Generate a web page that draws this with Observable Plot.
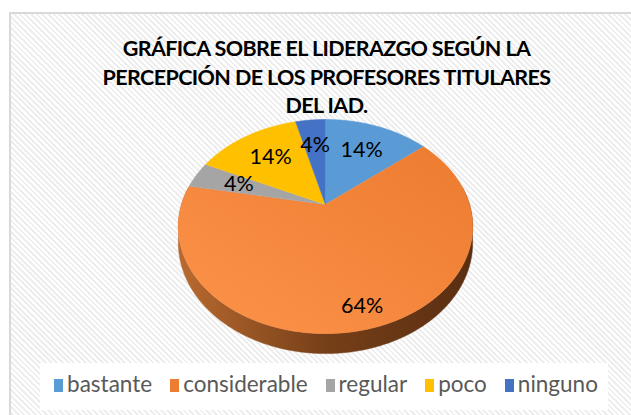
<!DOCTYPE html>
<html>
<head>
<meta charset="utf-8">
<script src="https://cdn.jsdelivr.net/npm/d3@7"></script>
<script src="https://cdn.jsdelivr.net/npm/@observablehq/plot@0.6"></script>
<style>
  html, body { margin: 0; padding: 0; background: #fff; }
  #page { position: relative; width: 631px; height: 415px; overflow: hidden; font-family: Lato, "Open Sans", sans-serif; }
  #frame { position: absolute; left: 9px; top: 12px; width: 640px; height: 420px;
    border-left: 2px solid #d9d9d9; border-top: 2px solid #d9d9d9;
    background: repeating-linear-gradient(45deg, #ffffff 0 2px, #eeeeee 2px 4px); z-index: 0; }
  #title { position: relative; z-index: 1; height: 116px; box-sizing: border-box; padding-top: 34.3px; padding-left: 22px;
    text-align: center; font-weight: 700; font-size: 21.5px; letter-spacing: -0.6px; line-height: 28.3px; color: #000; white-space: nowrap; }
  #chart { position: relative; z-index: 2; height: 247px; }
  #chart svg { overflow: visible; display: block; }
  #legend { position: absolute; left: 40px; top: 363px; width: 568px; height: 47px; background: #fff; z-index: 1;
    box-sizing: border-box; padding-top: 8px; padding-left: 4px; text-align: center; font-size: 22.5px; color: #595959; white-space: nowrap; line-height: 26px; }
  .item { display: inline-block; margin: 0 9px; }
  .sw { display: inline-block; width: 9px; height: 13px; margin-right: 4px; vertical-align: baseline; }
</style>
</head>
<body>
<svg width="0" height="0" style="position:absolute">
  <defs>
    <linearGradient id="sideOrange" x1="0" y1="0" x2="1" y2="0">
      <stop offset="0" stop-color="#b96a30"/>
      <stop offset="0.5" stop-color="#763f18"/>
      <stop offset="1" stop-color="#5a2e12"/>
    </linearGradient>
    <linearGradient id="topOrange" x1="0" y1="1" x2="1" y2="0">
      <stop offset="0" stop-color="#fc934a"/>
      <stop offset="1" stop-color="#ec7b2f"/>
    </linearGradient>
  </defs>
</svg>
<div id="page">
  <div id="frame"></div>
  <div id="title"></div>
  <div id="chart"></div>
  <div id="legend"></div>
</div>
<script>
// ---- data ----
const titleLines = ["GRÁFICA SOBRE EL LIDERAZGO SEGÚN LA", "PERCEPCIÓN DE LOS PROFESORES TITULARES", "DEL IAD."];
const categories = ["bastante", "considerable", "regular", "poco", "ninguno"];
const values = [14, 64, 4, 14, 4];
const colors = ["#5B9BD5", "#ED7D31", "#A5A5A5", "#FFC000", "#4472C4"];
const faceFills = ["#5B9BD5", "url(#topOrange)", "#A5A5A5", "#FFC000", "#4472C4"];
const sideFills = ["#3d6f9e", "url(#sideOrange)", "#7a7a7a", "#b98b00", "#2f5597"];

// ---- layout ----
const svgTop = 116, svgH = 247;
const cx = 325, cy = 204, S = 144, T = 102.5, k = 0.206, depth = 0.155;

document.getElementById("title").innerHTML = titleLines.map(t => `<div>${t}</div>`).join("");

function proj(a, r, h = 0) {
  const u = r * Math.sin(a), v = r * Math.cos(a);
  const w = 1 + k * v;
  return [u / w, (v - h) / w];
}

const arcs = d3.pie().sort(null).value(d => d)(values);
const step = Math.PI / 360;

const faces = [];
const sides = [];
const labels = [];
const lo = 80 * Math.PI / 180, hi = 280 * Math.PI / 180;
arcs.forEach((a, i) => {
  const cat = categories[i];
  faces.push({key: cat, X: 0, Y: 0});
  const n = Math.max(2, Math.ceil((a.endAngle - a.startAngle) / step));
  for (let j = 0; j <= n; j++) {
    const t = a.startAngle + (a.endAngle - a.startAngle) * j / n;
    const [X, Y] = proj(t, 1);
    faces.push({key: cat, X, Y});
  }
  const a0 = Math.max(a.startAngle, lo), a1 = Math.min(a.endAngle, hi);
  if (a0 < a1) {
    const m = Math.max(2, Math.ceil((a1 - a0) / step));
    for (let j = 0; j <= m; j++) {
      const t = a0 + (a1 - a0) * j / m;
      const [X, Y] = proj(t, 1);
      sides.push({key: cat + " side", X, Y});
    }
    for (let j = m; j >= 0; j--) {
      const t = a0 + (a1 - a0) * j / m;
      const [X, Y] = proj(t, 1, depth);
      sides.push({key: cat + " side", X, Y});
    }
  }
  const mid = (a.startAngle + a.endAngle) / 2;
  const r = values[i] >= 50 ? 0.85 : 0.66;
  const [LX, LY] = proj(mid, r);
  labels.push({X: LX, Y: LY, text: values[i] + "%"});
});

const chart = Plot.plot({
  width: 631,
  height: svgH,
  margin: 0,
  style: {background: "transparent", overflow: "visible"},
  x: {domain: [-1, 1], range: [cx - S, cx + S], axis: null},
  y: {domain: [-1, 1], range: [cy - svgTop + T, cy - svgTop - T], axis: null},
  color: {domain: [...categories, ...categories.map(c => c + " side")], range: [...faceFills, ...sideFills]},
  marks: [
    Plot.line(sides, {x: "X", y: "Y", z: "key", fill: "key", stroke: "key", strokeWidth: 0.5, curve: "linear"}),
    Plot.line(faces, {x: "X", y: "Y", z: "key", fill: "key", stroke: "key", strokeWidth: 0.6, curve: "linear"}),
    Plot.text(labels, {x: "X", y: "Y", text: "text", fontSize: 21.5, fontFamily: "Lato", fill: "#000"})
  ]
});
document.getElementById("chart").appendChild(chart);

document.getElementById("legend").innerHTML = categories.map((c, i) =>
  `<span class="item"><span class="sw" style="background:${colors[i]}"></span>${c}</span>`).join("");
</script>
</body>
</html>
